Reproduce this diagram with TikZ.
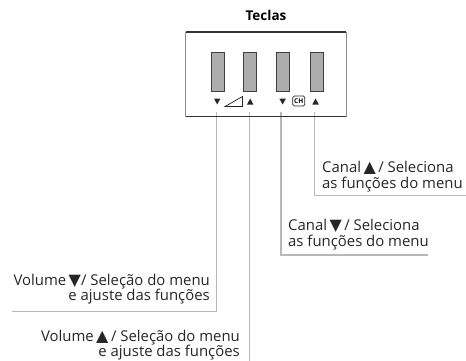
\documentclass[tikz,border=0pt]{standalone}
\usepackage{fontspec}
\setmainfont{Open Sans}
\newfontfamily\symf{DejaVu Sans}
\newcommand{\up}{{\symf\fontsize{16}{16}\selectfont ▲}}
\newcommand{\dn}{{\symf\fontsize{16}{16}\selectfont ▼}}
\tikzset{
  keybtn/.style={draw=black!75,fill=black!32,line width=0.9pt,minimum width=13pt,minimum height=39.5pt,inner sep=0,anchor=north west},
  panel/.style={draw=none,fill=white,minimum width=160.5pt,minimum height=84.5pt,inner sep=0,anchor=north west},
  leader/.style={draw=black!28,line width=1.5pt},
  caption/.style={inner sep=0,font=\fontsize{14.9}{15.7}\selectfont,text=black!85},
  tinytri/.style={fill=black!85,draw=none},
}
\begin{document}
\begin{tikzpicture}[x=1pt,y=-1pt]
\useasboundingbox (0,0) rectangle (466,361);
\node[font=\fontsize{13.5}{14}\selectfont\bfseries,inner sep=0,anchor=base] (title) at (266,21) {Teclas};
\node[panel] (box) at (185.5,32) {};
\coordinate (l1a) at (216.7,112); \coordinate (l1b) at (216.7,311.7); \coordinate (l1c) at (12,311.7);
\coordinate (l2a) at (249.3,112); \coordinate (l2b) at (249.3,361);
\coordinate (l3a) at (281,112); \coordinate (l3b) at (281,255); \coordinate (l3c) at (428,255);
\coordinate (l4a) at (314.3,112); \coordinate (l4b) at (314.3,195.7); \coordinate (l4c) at (466,195.7);
\draw[leader] (l1a) -- (l1b) -- (l1c);
\draw[leader] (l2a) -- (l2b);
\draw[leader] (l3a) -- (l3b) -- (l3c);
\draw[leader] (l4a) -- (l4b) -- (l4c);
\draw[draw=black!80,line width=1.1pt] (box.north west) -- (box.north east);
\draw[draw=black!80,line width=1.1pt] (box.south west) -- (box.south east);
\draw[draw=black!45,line width=0.5pt] (box.north west) -- (box.south west);
\draw[draw=black!45,line width=0.5pt] (box.north east) -- (box.south east);
\node[keybtn] (k1) at (210.7,52) {};
\node[keybtn] (k2) at (243.3,52) {};
\node[keybtn] (k3) at (275.5,52) {};
\node[keybtn] (k4) at (309.5,52) {};
\fill[tinytri] (214,98.5) -- (220.4,98.5) -- (217.2,104.5) -- cycle;
\fill[tinytri] (247,104.5) -- (253.4,104.5) -- (250.2,98.5) -- cycle;
\fill[tinytri] (279.3,98.5) -- (286,98.5) -- (282.6,104.5) -- cycle;
\fill[tinytri] (312.3,104.5) -- (318.8,104.5) -- (315.5,98.5) -- cycle;
\draw[black!85,line width=0.7pt,line join=miter] (225,106.5) -- (242.5,106.5) -- (242.5,96.5) -- cycle;
\node[draw=black!85,line width=0.7pt,rounded corners=1.5pt,inner sep=0,minimum width=12pt,minimum height=10pt,font=\fontsize{6.5}{6.5}\selectfont\bfseries] (ch) at (298.8,101) {CH};
\node[caption,anchor=base east,align=right] (t1) at (210,300.7) {Volume\,\dn/ Seleção do menu\\e ajuste das funções};
\node[caption,anchor=base east,align=right] (t2) at (240,356.7) {Volume\,\up\,/ Seleção do menu\\e ajuste das funções};
\node[caption,anchor=base west,align=left] (t3) at (288,246) {Canal\,\dn\,/ Seleciona\\as funções do menu};
\node[caption,anchor=base west,align=left] (t4) at (322,188.3) {Canal\,\up\,/ Seleciona\\as funções do menu};
\end{tikzpicture}
\end{document}
